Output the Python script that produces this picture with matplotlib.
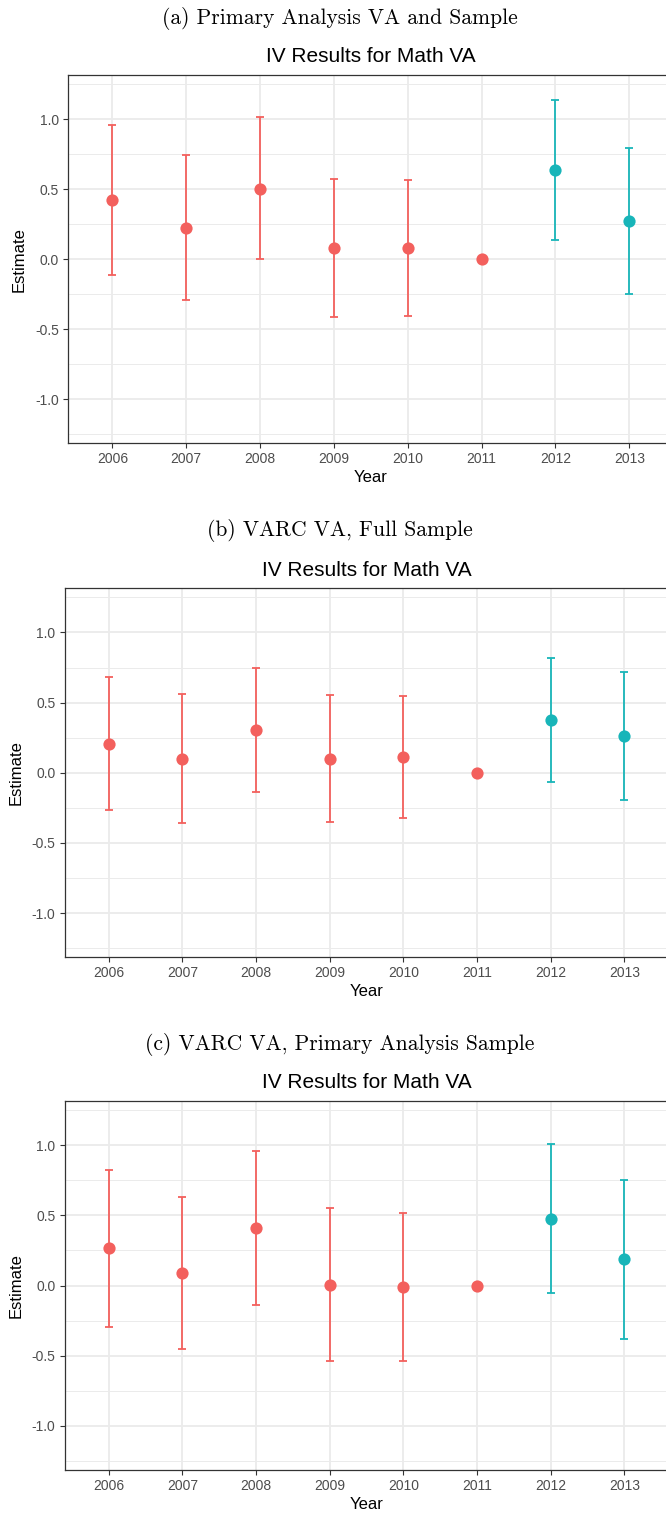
import matplotlib
matplotlib.use("Agg")
import matplotlib.pyplot as plt
import numpy as np

# data
years = [2006, 2007, 2008, 2009, 2010, 2011, 2012, 2013]
groups = ["pre", "pre", "pre", "pre", "pre", "pre", "post", "post"]

est_a = [0.421, 0.226, 0.505, 0.079, 0.079, 0.0, 0.638, 0.274]
hi_a = [0.957, 0.743, 1.014, 0.574, 0.569, 0.0, 1.140, 0.798]
lo_a = [-0.112, -0.288, 0.0, -0.412, -0.407, 0.0, 0.140, -0.250]

est_b = [0.205, 0.100, 0.302, 0.100, 0.114, 0.0, 0.376, 0.260]
hi_b = [0.681, 0.562, 0.745, 0.555, 0.548, 0.0, 0.819, 0.717]
lo_b = [-0.267, -0.360, -0.136, -0.352, -0.319, 0.0, -0.064, -0.195]

est_c = [0.264, 0.086, 0.407, 0.007, -0.014, 0.0, 0.474, 0.188]
hi_c = [0.826, 0.633, 0.957, 0.555, 0.514, 0.0, 1.007, 0.755]
lo_c = [-0.298, -0.452, -0.140, -0.538, -0.538, 0.0, -0.057, -0.381]

captions = ["(a) Primary Analysis VA and Sample",
            "(b) VARC VA, Full Sample",
            "(c) VARC VA, Primary Analysis Sample"]
title = "IV Results for Math VA"
colors = {"pre": "#F3605D", "post": "#18B5B9"}

plt.rcParams['axes.unicode_minus'] = False
plt.rcParams['font.family'] = ['Liberation Sans', 'DejaVu Sans']

W, H = 666, 1513
fig = plt.figure(figsize=(W / 100, H / 100), dpi=100)

# (left px, top px, bottom px, px per year) for each panel
boxes = [(68.0, 75.3, 443.3, 73.86),
         (64.6, 588.3, 957.3, 73.67),
         (64.6, 1101.0, 1470.0, 73.67)]
caption_y = [18, 530, 1044]
title_y = [57, 570, 1083]

panels = [(est_a, lo_a, hi_a), (est_b, lo_b, hi_b), (est_c, lo_c, hi_c)]
xmin, xmax = 2005.4, 2013.6
ylo, yhi = -1.315, 1.315

for k, (est, lo, hi) in enumerate(panels):
    left, top, bottom, ppu = boxes[k]
    ax = fig.add_axes([left / W, 1 - bottom / H, (xmax - xmin) * ppu / W, (bottom - top) / H])
    ax.set_xlim(xmin, xmax)
    ax.set_ylim(ylo, yhi)

    ax.set_yticks([-1.0, -0.5, 0.0, 0.5, 1.0])
    ax.set_yticklabels(["-1.0", "-0.5", "0.0", "0.5", "1.0"])
    ax.set_yticks([-1.25, -0.75, -0.25, 0.25, 0.75, 1.25], minor=True)
    ax.set_xticks(years)
    ax.set_xticklabels([str(y) for y in years])

    ax.grid(which='major', color='#EBEBEB', linewidth=1.3)
    ax.grid(which='minor', axis='y', color='#EBEBEB', linewidth=0.7)
    ax.set_axisbelow(True)
    ax.tick_params(which='minor', length=0)
    ax.tick_params(which='major', length=3.5, width=0.8, color='#333333',
                   labelcolor='#4D4D4D', labelsize=10, pad=3)
    for s in ax.spines.values():
        s.set_color('#333333')
        s.set_linewidth(0.9)

    for x, e, l, h, g in zip(years, est, lo, hi, groups):
        c = colors[g]
        if h != l:
            ax.errorbar([x], [e], yerr=[[e - l], [h - e]], fmt='none', ecolor=c,
                        elinewidth=1.3, capsize=3, capthick=1.3, zorder=2)
        ax.plot([x], [e], 'o', color=c, markersize=8.8, markeredgewidth=0, zorder=3)

    ax.set_xlabel("Year", fontsize=12, labelpad=3)
    ax.set_ylabel("Estimate", fontsize=12, labelpad=6)

    fig.text(340 / W, 1 - caption_y[k] / H, captions[k], family='cmr10',
             fontsize=15.5, ha='center', va='center')
    fig.text((left + (xmax - xmin) * ppu / 2) / W, 1 - title_y[k] / H, title,
             fontsize=15, ha='center', va='center')

fig.savefig("out.png", dpi=100)
